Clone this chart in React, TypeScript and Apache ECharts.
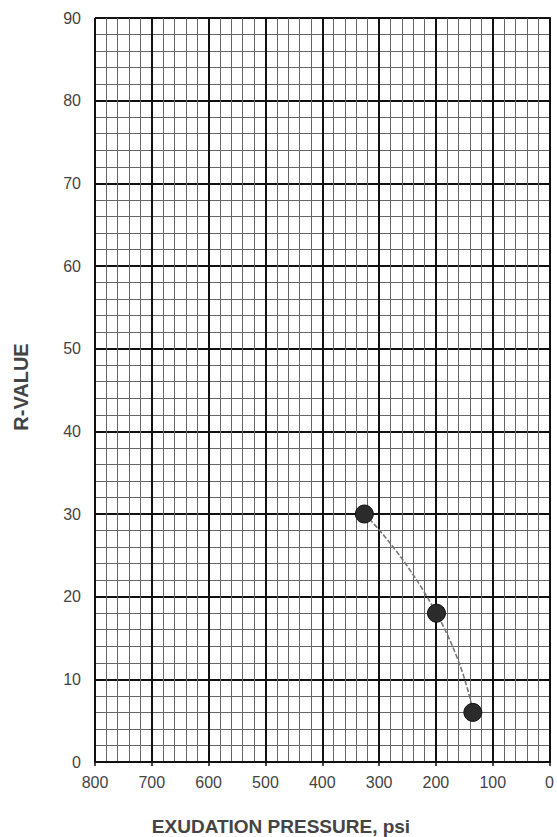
import React, { useEffect, useRef } from "react";
import * as echarts from "echarts";

const pressure = [326, 199, 135];
const rValue = [30, 18, 6];
const xTitle = "EXUDATION PRESSURE, psi";
const yTitle = "R-VALUE";

export default function App() {
  const ref = useRef<HTMLDivElement>(null);
  useEffect(() => {
    if (!ref.current) return;
    const chart = echarts.init(ref.current, null, { renderer: "svg" });
    const data = pressure.map((p, i) => [p, rValue[i]]);
    chart.setOption({
      animation: false,
      backgroundColor: "#ffffff",
      grid: { left: 95, right: 6, top: 18, bottom: 75 },
      graphic: [
        {
          type: "text",
          x: 281,
          y: 826,
          style: {
            text: xTitle,
            fontFamily: "Liberation Sans, Arial",
            fontWeight: "bold",
            fontSize: 19,
            fill: "#444",
            textAlign: "center",
            textVerticalAlign: "middle",
          },
        },
      ],
      xAxis: {
        type: "value",
        inverse: true,
        min: 0,
        max: 800,
        interval: 100,
        axisLine: { show: true, onZero: false, lineStyle: { color: "#111", width: 2 } },
        axisTick: { show: true, length: 4, lineStyle: { color: "#111", width: 1.5 } },
        axisLabel: { fontFamily: "Liberation Sans, Arial", fontSize: 16, color: "#444", margin: 12 },
        splitLine: { show: true, lineStyle: { color: "#111", width: 2 } },
        minorTick: { show: false, splitNumber: 5 },
        minorSplitLine: { show: true, lineStyle: { color: "#666", width: 1 } },
      },
      yAxis: {
        type: "value",
        min: 0,
        max: 90,
        interval: 10,
        name: yTitle,
        nameLocation: "middle",
        nameGap: 64,
        nameRotate: 90,
        nameTextStyle: { fontFamily: "Liberation Sans, Arial", fontWeight: "bold", fontSize: 20, color: "#444", padding: [0, 0, 0, 6] },
        axisLine: { show: true, lineStyle: { color: "#111", width: 2 } },
        axisTick: { show: true, length: 5, lineStyle: { color: "#111", width: 1.5 } },
        axisLabel: { fontFamily: "Liberation Sans, Arial", fontSize: 16, color: "#444", margin: 14 },
        splitLine: { show: true, lineStyle: { color: "#111", width: 2 } },
        minorTick: { show: false, splitNumber: 5 },
        minorSplitLine: { show: true, lineStyle: { color: "#666", width: 1 } },
      },
      series: [
        {
          type: "line",
          data,
          smooth: 0.6,
          symbol: "circle",
          symbolSize: 18,
          lineStyle: { color: "#777", width: 1.6, type: [5, 2] },
          itemStyle: { color: "#2b2b2b", borderColor: "#111", borderWidth: 1 },
          z: 5,
        },
      ],
    });
    return () => chart.dispose();
  }, []);
  return (
    <div
      ref={ref}
      style={{ position: "fixed", left: 0, top: 0, width: 557, height: 837 }}
    />
  );
}
